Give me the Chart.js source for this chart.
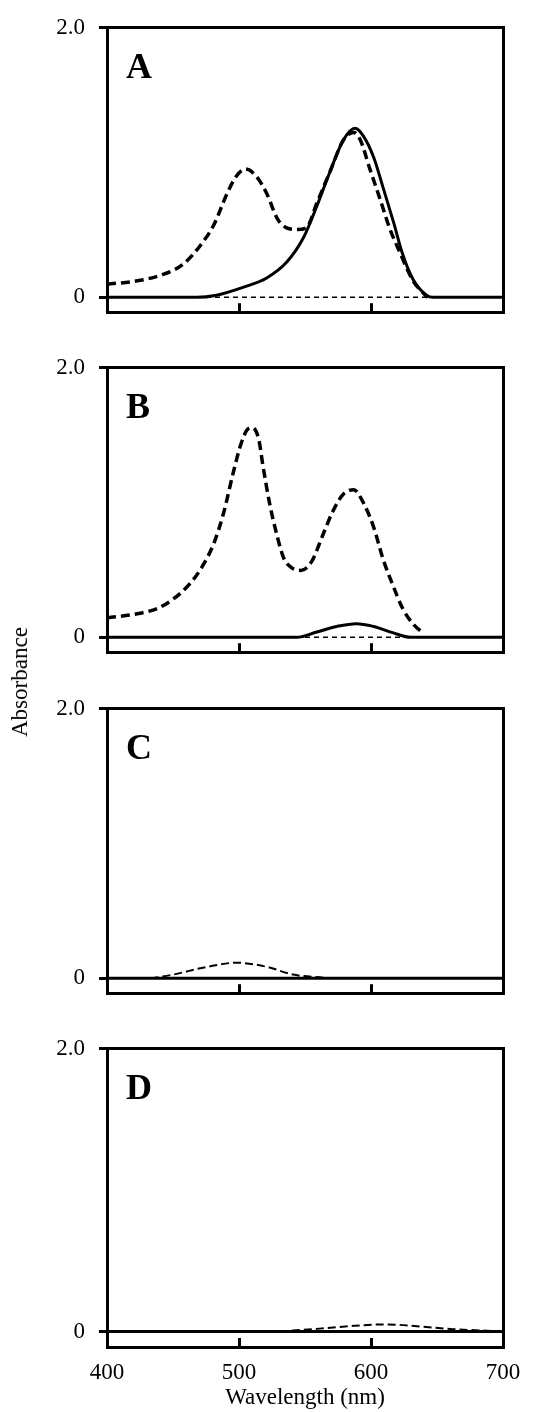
<!DOCTYPE html>
<html>
<head>
<meta charset="utf-8">
<title>Absorbance spectra A-D</title>
<script src="https://cdn.jsdelivr.net/npm/chart.js@4.4.1/dist/chart.umd.min.js"></script>
<style>
  html, body { margin: 0; padding: 0; background: #fff; }
  #page { position: relative; width: 536px; height: 1412px; overflow: hidden; background: #fff; }
  .panel { position: absolute; left: 0; }
  #ylabel {
    position: absolute; left: 20px; top: 682px;
    transform: translate(-50%, -50%) rotate(-90deg);
    font: 23px "Liberation Serif", "Times New Roman", serif;
    white-space: nowrap; color: #000;
  }
</style>
</head>
<body>
<div id="page">
  <canvas id="chartA" class="panel" width="536" height="340" style="top:0px;width:536px;height:340px"></canvas>
  <canvas id="chartB" class="panel" width="536" height="340" style="top:340px;width:536px;height:340px"></canvas>
  <canvas id="chartC" class="panel" width="536" height="340" style="top:681px;width:536px;height:340px"></canvas>
  <canvas id="chartD" class="panel" width="536" height="391" style="top:1021px;width:536px;height:391px"></canvas>
  <div id="ylabel">Absorbance</div>
</div>
<script>
// ejes
const xTicks = [400, 500, 600, 700];
const yTicks = [0, 2.0];
const yTickLabels = ["0", "2.0"];
const yMin = -0.11;
const yMax = 2.0;

// panel A
const aSolidNm  = [400, 468, 483, 503, 521, 536, 549, 559, 569, 579, 588, 594, 602, 609, 617, 624, 632, 642, 647, 700];
const aSolidAbs = [0, 0, 0.016, 0.074, 0.144, 0.26, 0.446, 0.678, 0.934, 1.166, 1.254, 1.20, 1.04, 0.82, 0.56, 0.32, 0.13, 0.016, 0, 0];
const aDashNm   = [400, 422, 443, 458, 470, 481, 491, 498, 505, 513, 521, 529, 536, 544, 551, 559, 569, 579, 587, 592, 599, 607, 614, 622, 632, 640, 643];
const aDashAbs  = [0.098, 0.121, 0.172, 0.249, 0.376, 0.539, 0.771, 0.899, 0.952, 0.899, 0.771, 0.585, 0.516, 0.504, 0.516, 0.70, 0.934, 1.166, 1.224, 1.166, 0.957, 0.725, 0.516, 0.33, 0.121, 0.028, 0];

// panel B
const bSolidNm  = [400, 544, 559, 574, 589, 602, 617, 630, 700];
const bSolidAbs = [0, 0, 0.04, 0.081, 0.102, 0.081, 0.033, 0, 0];
const bDashNm   = [400, 425, 438, 450, 463, 473, 481, 488, 496, 501, 506, 510, 515, 518, 523, 529, 534, 540, 547, 555, 564, 571, 579, 587, 594, 602, 609, 617, 624, 632, 640];
const bDashAbs  = [0.144, 0.179, 0.214, 0.283, 0.40, 0.539, 0.70, 0.911, 1.236, 1.42, 1.538, 1.556, 1.468, 1.282, 1.003, 0.748, 0.585, 0.516, 0.497, 0.562, 0.771, 0.934, 1.062, 1.096, 1.003, 0.818, 0.585, 0.376, 0.214, 0.098, 0.028];

// panel C
const cSolidNm  = [400, 700];
const cSolidAbs = [0, 0];
const cDashNm   = [433, 450, 476, 498, 521, 541, 564];
const cDashAbs  = [0, 0.028, 0.086, 0.116, 0.086, 0.028, 0.005];

// panel D
const dSolidNm  = [400, 700];
const dSolidAbs = [0, 0];
const dDashNm   = [531, 561, 587, 612, 637, 662, 688, 700];
const dDashAbs  = [0, 0.02, 0.04, 0.05, 0.035, 0.016, 0.005, 0];

// linea base (discontinua fina)
const baseNm  = [400, 700];
const baseAbs = [0, 0];

Chart.defaults.font.family = '"Liberation Serif", "Times New Roman", serif';
Chart.defaults.font.size = 23;
Chart.defaults.color = '#000';

function puntos(nm, abs) {
    return nm.map((x, i) => ({ x: x, y: abs[i] }));
}

function solida(nm, abs) {
    return { data: puntos(nm, abs), borderColor: '#000', borderWidth: 3, borderDash: [], xAxisID: 'x', yAxisID: 'y' };
}

function discontinua(nm, abs, ancho, patron) {
    return { data: puntos(nm, abs), borderColor: '#000', borderWidth: ancho, borderDash: patron, xAxisID: 'x', yAxisID: 'y' };
}

// letra del panel dentro del area
const letraPanel = {
    id: 'letraPanel',
    afterDraw(chart, args, opts) {
        const { ctx, chartArea } = chart;
        ctx.save();
        ctx.font = 'bold 36px "Liberation Serif", "Times New Roman", serif';
        ctx.fillStyle = '#000';
        ctx.textBaseline = 'alphabetic';
        ctx.fillText(opts.text, chartArea.left + 19, chartArea.top + 50);
        ctx.restore();
    }
};

function crearGrafica(id, letra, datasets, abajo) {
    const ctx = document.getElementById(id).getContext('2d');
    return new Chart(ctx, {
        type: 'line',
        data: { datasets: datasets },
        plugins: [letraPanel],
        options: {
            responsive: false,
            animation: false,
            events: [],
            layout: { padding: { top: 24, right: 33, bottom: 0, left: 0 } },
            plugins: {
                legend: { display: false },
                tooltip: { enabled: false },
                letraPanel: { text: letra }
            },
            elements: {
                point: { radius: 0 },
                line: { tension: 0.4, cubicInterpolationMode: 'monotone', borderCapStyle: 'butt' }
            },
            scales: {
                x: {
                    type: 'linear', position: 'bottom', min: 400, max: 700,
                    afterBuildTicks: s => { s.ticks = xTicks.map(v => ({ value: v })); },
                    afterFit: s => {
                        s.height = abajo ? 65 : 13;
                        s.paddingLeft = 0;
                        s.paddingRight = 0;
                    },
                    grid: { drawOnChartArea: false, drawTicks: true, tickLength: -9, lineWidth: 3, color: '#000' },
                    border: { display: true, width: 3, color: '#000' },
                    ticks: { display: abajo, padding: 21, maxRotation: 0, callback: v => String(v) },
                    title: { display: abajo, text: 'Wavelength (nm)', padding: 0 }
                },
                xTop: {
                    type: 'linear', position: 'top',
                    afterFit: s => { s.height = 0; },
                    grid: { display: false },
                    ticks: { display: false },
                    border: { display: true, width: 3, color: '#000' }
                },
                y: {
                    type: 'linear', position: 'left', min: yMin, max: yMax,
                    afterBuildTicks: s => { s.ticks = yTicks.map(v => ({ value: v })); },
                    afterFit: s => { s.width = 107; },
                    grid: { drawOnChartArea: false, drawTicks: true, tickLength: 8, lineWidth: 3, color: '#000' },
                    border: { display: true, width: 3, color: '#000' },
                    ticks: { padding: 14, callback: (v, i) => yTickLabels[i] }
                },
                yRight: {
                    type: 'linear', position: 'right',
                    afterFit: s => { s.width = 0; },
                    grid: { display: false },
                    ticks: { display: false },
                    border: { display: true, width: 3, color: '#000' }
                }
            }
        }
    });
}

document.addEventListener("DOMContentLoaded", function() {
    crearGrafica('chartA', 'A', [
        solida(aSolidNm, aSolidAbs),
        discontinua(aDashNm, aDashAbs, 3.5, [9, 5]),
        discontinua(baseNm, baseAbs, 1.5, [5, 4])
    ], false);

    crearGrafica('chartB', 'B', [
        solida(bSolidNm, bSolidAbs),
        discontinua(bDashNm, bDashAbs, 3.5, [9, 5]),
        discontinua(baseNm, baseAbs, 1.5, [5, 4])
    ], false);

    crearGrafica('chartC', 'C', [
        solida(cSolidNm, cSolidAbs),
        discontinua(cDashNm, cDashAbs, 2, [8, 4])
    ], false);

    crearGrafica('chartD', 'D', [
        solida(dSolidNm, dSolidAbs),
        discontinua(dDashNm, dDashAbs, 2, [8, 4])
    ], true);
});
</script>
</body>
</html>
